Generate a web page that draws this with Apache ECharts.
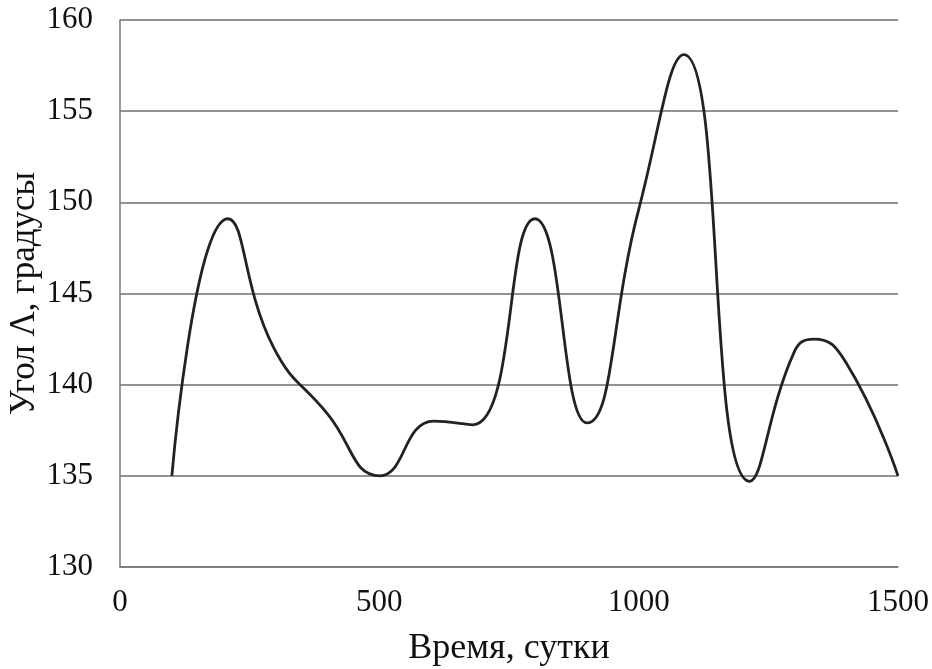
<!DOCTYPE html>
<html>
<head>
<meta charset="utf-8">
<script src="https://cdn.jsdelivr.net/npm/echarts@6/dist/echarts.min.js"></script>
<style>
html,body{margin:0;padding:0;background:#fff;}
#chart{width:932px;height:669px;}
</style>
</head>
<body>
<div id="chart"></div>
<script>
var days   = [100, 208, 295, 400, 501, 605, 680, 800, 900, 1000, 1087, 1214, 1300, 1338, 1400, 1500];
var angles = [135.0, 149.1, 142.1, 138.4, 135.0, 138.0, 137.8, 149.1, 137.9, 149.6, 158.1, 134.7, 141.8, 142.5, 141.2, 135.0];
var xTicks = [0, 500, 1000, 1500];
var yTicks = [130, 135, 140, 145, 150, 155, 160];
var xName = 'Время, сутки';
var yName = 'Угол Λ, градусы';

var points = days.map(function(d, i){ return [d, angles[i]]; });
var chart = echarts.init(document.getElementById('chart'));
var font = '"Liberation Serif", "Times New Roman", serif';
chart.setOption({
  animation: false,
  backgroundColor: '#fff',
  grid: {left: 120, right: 34, top: 20, bottom: 102, containLabel: false, outerBoundsMode: 'none'},
  xAxis: {
    type: 'value', min: xTicks[0], max: xTicks[xTicks.length-1], interval: 500,
    name: xName, nameLocation: 'middle', nameGap: 64, nameMoveOverlap: false,
    nameTextStyle: {fontFamily: font, fontSize: 36, color: '#111'},
    axisLine: {show: true, lineStyle: {color: '#7a7a7a', width: 1.5}},
    axisTick: {show: false},
    splitLine: {show: false},
    axisLabel: {fontFamily: font, fontSize: 31, color: '#111', margin: 20,
      formatter: function(v){ return String(v); }}
  },
  yAxis: {
    type: 'value', min: yTicks[0], max: yTicks[yTicks.length-1], interval: 5,
    name: yName, nameLocation: 'middle', nameGap: 78, nameRotate: 90, nameMoveOverlap: false,
    nameTextStyle: {fontFamily: font, fontSize: 35, color: '#111'},
    axisLine: {show: true, lineStyle: {color: '#7a7a7a', width: 1.5}},
    axisTick: {show: false},
    splitLine: {show: true, lineStyle: {color: '#6e6e6e', width: 1.5}},
    axisLabel: {fontFamily: font, fontSize: 31, color: '#111', margin: 27,
      formatter: function(v){ return String(v); }}
  },
  series: [{
    type: 'line',
    data: points,
    smooth: 0.5,
    showSymbol: false,
    lineStyle: {color: '#222', width: 2.8}
  }]
});
</script>
</body>
</html>
